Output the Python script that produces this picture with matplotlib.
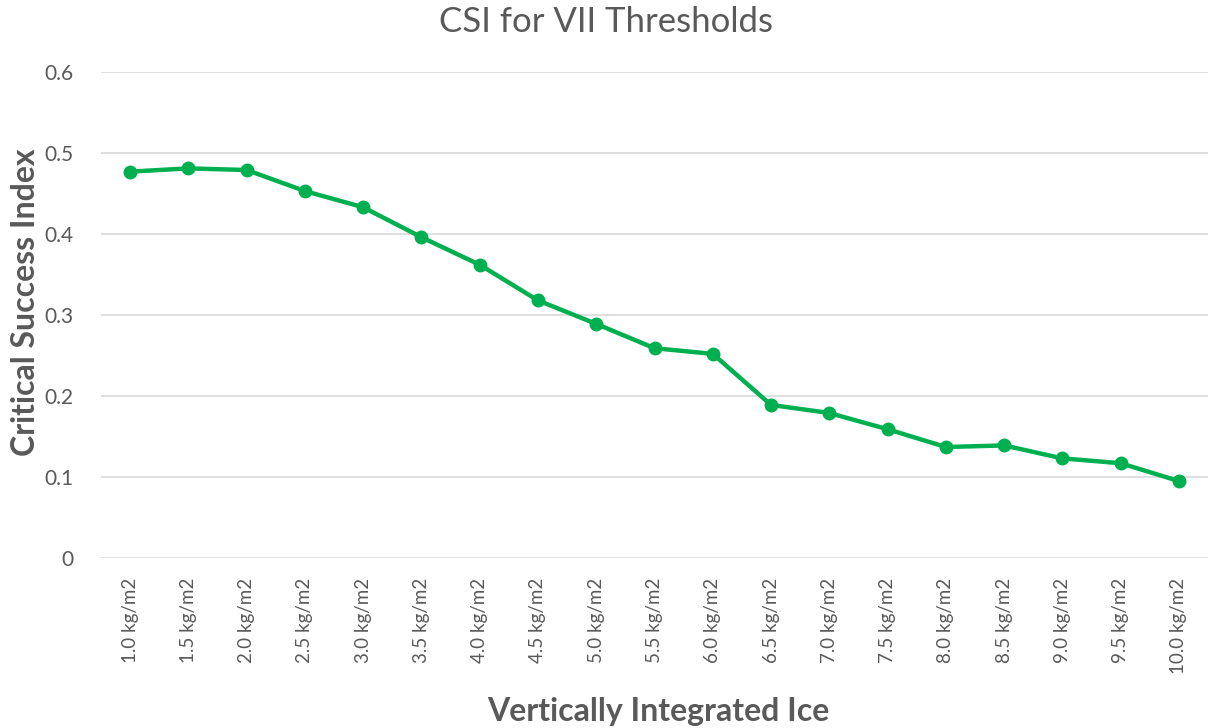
import matplotlib
matplotlib.use("Agg")
import matplotlib.pyplot as plt

categories = ["1.0 kg/m2", "1.5 kg/m2", "2.0 kg/m2", "2.5 kg/m2", "3.0 kg/m2", "3.5 kg/m2",
              "4.0 kg/m2", "4.5 kg/m2", "5.0 kg/m2", "5.5 kg/m2", "6.0 kg/m2", "6.5 kg/m2",
              "7.0 kg/m2", "7.5 kg/m2", "8.0 kg/m2", "8.5 kg/m2", "9.0 kg/m2", "9.5 kg/m2",
              "10.0 kg/m2"]
csi = [0.477, 0.481, 0.479, 0.453, 0.433, 0.396, 0.362, 0.318, 0.289, 0.259, 0.252,
       0.189, 0.179, 0.159, 0.137, 0.139, 0.123, 0.117, 0.095]
yticks = [0, 0.1, 0.2, 0.3, 0.4, 0.5, 0.6]
ytick_labels = ["0", "0.1", "0.2", "0.3", "0.4", "0.5", "0.6"]

plt.rcParams['font.family'] = ['Lato', 'DejaVu Sans']
gray = "#595959"

fig = plt.figure(figsize=(12.08, 7.28), dpi=100)
ax = fig.add_axes([101/1208, 1-558/728, (1208-101)/1208, (558-72)/728])

x = list(range(len(categories)))
ax.plot(x, csi, color="#00B050", linewidth=3.2, marker="o", markersize=9, zorder=3)

ax.set_xlim(-0.5, len(categories) - 0.5)
ax.set_ylim(0, 0.6)
ax.set_yticks(yticks)
ax.set_yticklabels(ytick_labels)
ax.set_xticks(x)
ax.set_xticklabels(categories, rotation=90)
ax.tick_params(axis='both', length=0, labelcolor=gray)
ax.tick_params(axis='y', labelsize=15, pad=20)
ax.tick_params(axis='x', labelsize=13.5, pad=14)
ax.grid(axis='y', color="#D9D9D9", linewidth=1.2)
ax.set_axisbelow(True)
for s in ax.spines.values():
    s.set_visible(False)

fig.text(26/1208, 1-302/728, "Critical Success Index", rotation=90, ha='center', va='center',
         fontsize=23, fontweight='bold', color=gray)
fig.text(658/1208, 1-711/728, "Vertically Integrated Ice", ha='center', va='center',
         fontsize=23, fontweight='bold', color=gray)
fig.text(606/1208, 1-22/728, "CSI for VII Thresholds", ha='center', va='center',
         fontsize=25, color=gray)

fig.savefig("out.png", dpi=100)
